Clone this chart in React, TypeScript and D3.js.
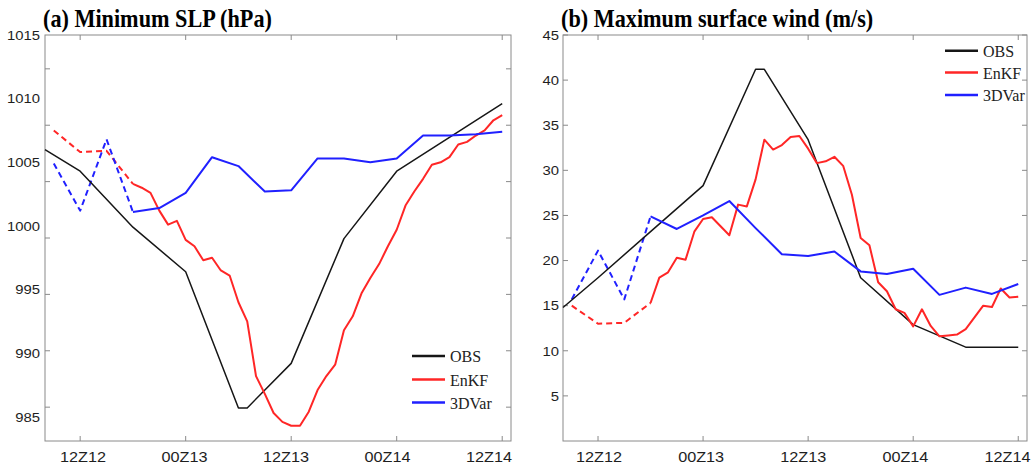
import React from "react";
import * as d3 from "d3";

// ---------- data (hours since 00Z12) ----------
const hourTicks = [12, 24, 36, 48, 60];
const hourTickLabels = ["12Z12", "00Z13", "12Z13", "00Z14", "12Z14"];
const slpTicks = [985, 990, 995, 1000, 1005, 1010, 1015];
const windTicks = [5, 10, 15, 20, 25, 30, 35, 40, 45];

// (a) Minimum SLP
const obsHoursA = [8, 12, 18, 24, 30, 31, 36, 42, 48, 60];
const obsSlp = [1006.0, 1004.3, 999.9, 996.4, 985.7, 985.7, 989.2, 999.0, 1004.3, 1009.6];

const spinHours = [9, 12, 15, 18];
const enkfSlpSpin = [1007.5, 1005.8, 1005.9, 1003.3];
const var3dSlpSpin = [1004.9, 1001.2, 1006.8, 1001.1];

const enkfHours = [18, 19, 20, 21, 22, 23, 24, 25, 26, 27, 28, 29, 30, 31, 32, 33, 34, 35, 36, 37, 38, 39,
  40, 41, 42, 43, 44, 45, 46, 47, 48, 49, 50, 51, 52, 53, 54, 55, 56, 57, 58, 59, 60];
const enkfSlp = [1003.3, 1003.0, 1002.6, 1001.2, 1000.1, 1000.4, 998.9, 998.4, 997.3, 997.5, 996.5, 996.1,
  994.0, 992.5, 988.2, 986.8, 985.3, 984.6, 984.3, 984.3, 985.4, 987.1, 988.2, 989.1, 991.8, 992.9, 994.7,
  995.9, 997.0, 998.4, 999.7, 1001.6, 1002.7, 1003.7, 1004.8, 1005.0, 1005.4, 1006.4, 1006.6, 1007.1,
  1007.5, 1008.3, 1008.7];

const var3dHours = [18, 21, 24, 27, 30, 33, 36, 39, 42, 45, 48, 51, 54, 57, 60];
const var3dSlp = [1001.1, 1001.4, 1002.6, 1005.4, 1004.7, 1002.7, 1002.8, 1005.3, 1005.3, 1005.0, 1005.3,
  1007.1, 1007.1, 1007.2, 1007.4];

// (b) Maximum surface wind
const obsHoursB = [8, 12, 18, 24, 30, 31, 36, 42, 48, 54, 60];
const obsWind = [14.8, 18.1, 23.2, 28.3, 41.2, 41.2, 33.4, 18.1, 12.9, 10.4, 10.4];

const enkfWindSpin = [15.0, 13.0, 13.1, 15.3];
const var3dWindSpin = [15.7, 21.1, 15.7, 24.9];

const enkfWind = [15.3, 18.1, 18.7, 20.3, 20.1, 23.2, 24.6, 24.8, 23.8, 22.8, 26.2, 26.0, 29.0, 33.4, 32.3,
  32.8, 33.7, 33.8, 32.4, 30.8, 31.0, 31.5, 30.5, 27.3, 22.5, 21.7, 17.6, 16.6, 14.6, 14.2, 12.7, 14.6, 12.75,
  11.6, 11.7, 11.8, 12.4, 13.7, 15.0, 14.85, 16.9, 15.9, 16.0];

const var3dWind = [24.9, 23.5, 25.0, 26.6, 23.6, 20.7, 20.5, 21.0, 18.8, 18.5, 19.1, 16.2, 17.0, 16.3, 17.4];

const legendNames = ["OBS", "EnKF", "3DVar"];

// ---------- style ----------
const COLORS: Record<string, string> = { OBS: "#161616", EnKF: "#ff2626", "3DVar": "#2020ff" };
const WIDTHS: Record<string, number> = { OBS: 1.5, EnKF: 2, "3DVar": 2 };
const AXIS = "#8a8a8a";
const TOP = 35;
const BOTTOM = 441;
const hourDomain = [8, 61];

type Series = { name: string; hours: number[]; values: number[]; dashed?: boolean };

function Panel(props: {
  x: d3.ScaleLinear<number, number>;
  xLab: d3.ScaleLinear<number, number>;
  y: d3.ScaleLinear<number, number>;
  yTick: d3.ScaleLinear<number, number>;
  yTicks: number[];
  yLabelRight: number;
  title: string;
  series: Series[];
  legend: { x: number; ys: number[] };
}) {
  const { x, xLab, y, yTick, yTicks, yLabelRight, title, series, legend } = props;
  const [left, right] = x.range();
  const mk = (s: Series) =>
    d3
      .line<number>()
      .x((_, i) => x(s.hours[i]))
      .y((d) => y(d))(s.values) || "";
  return (
    <g>
      <text
        transform={`translate(${left - 2},27) scale(0.855,1)`}
        fontFamily="'Liberation Serif','Times New Roman',serif"
        fontWeight="bold"
        fontSize={26}
        fill="#000"
      >
        {title}
      </text>
      <rect x={left} y={TOP} width={right - left} height={BOTTOM - TOP} fill="none" stroke={AXIS} strokeWidth={1} />
      {hourTicks.map((h) => (
        <g key={"xt" + h}>
          <line x1={x(h)} x2={x(h)} y1={BOTTOM} y2={BOTTOM - 5} stroke={AXIS} />
          <line x1={x(h)} x2={x(h)} y1={TOP} y2={TOP + 5} stroke={AXIS} />
        </g>
      ))}
      {hourTicks.map((h, i) => (
        <text
          key={"xl" + h}
          transform={`translate(${xLab(h)},461.5) scale(1.12,1)`}
          textAnchor="middle"
          fontFamily="'Liberation Sans',Arial,sans-serif"
          fontSize={14.5}
          fill="#1e1e1e"
        >
          {hourTickLabels[i]}
        </text>
      ))}
      {yTicks.map((v) => (
        <g key={"yt" + v}>
          <line x1={left} x2={left + 5} y1={yTick(v)} y2={yTick(v)} stroke={AXIS} />
          <line x1={right} x2={right - 5} y1={yTick(v)} y2={yTick(v)} stroke={AXIS} />
        </g>
      ))}
      {yTicks.map((v) => (
        <text
          key={"yl" + v}
          transform={`translate(${yLabelRight},${y(v) + 4.8}) scale(1.1,1)`}
          textAnchor="end"
          fontFamily="'Liberation Sans',Arial,sans-serif"
          fontSize={13.5}
          fill="#1e1e1e"
        >
          {v}
        </text>
      ))}
      {series.map((s, i) => (
        <path
          key={"s" + i}
          d={mk(s)}
          fill="none"
          stroke={COLORS[s.name]}
          strokeWidth={WIDTHS[s.name]}
          strokeDasharray={s.dashed ? "6,4" : undefined}
          strokeLinejoin="round"
        />
      ))}
      {legendNames.map((n, i) => (
        <g key={"lg" + n}>
          <line x1={legend.x} x2={legend.x + 33} y1={legend.ys[i]} y2={legend.ys[i]} stroke={COLORS[n]} strokeWidth={2.5} />
          <text
            x={legend.x + 38}
            y={legend.ys[i] + 6}
            fontFamily="'Liberation Serif','Times New Roman',serif"
            fontSize={16}
            fill="#222"
          >
            {n}
          </text>
        </g>
      ))}
    </g>
  );
}

export default function App() {
  const xA = d3.scaleLinear().domain(hourDomain).range([45, 511]);
  const xB = d3.scaleLinear().domain(hourDomain).range([563, 1027]);
  const xLabA = d3.scaleLinear().domain([12, 60]).range([83, 489]);
  const xLabB = d3.scaleLinear().domain([12, 60]).range([599, 1007.5]);
  const yA = d3.scaleLinear().domain([983.1, 1015]).range([BOTTOM, TOP]);
  const yATick = d3.scaleLinear().domain([982, 1018]).range([BOTTOM, TOP]);
  const yB = d3.scaleLinear().domain([0, 45]).range([BOTTOM, TOP]);

  const seriesA: Series[] = [
    { name: "EnKF", hours: spinHours, values: enkfSlpSpin, dashed: true },
    { name: "3DVar", hours: spinHours, values: var3dSlpSpin, dashed: true },
    { name: "OBS", hours: obsHoursA, values: obsSlp },
    { name: "EnKF", hours: enkfHours, values: enkfSlp },
    { name: "3DVar", hours: var3dHours, values: var3dSlp },
  ];
  const seriesB: Series[] = [
    { name: "EnKF", hours: spinHours, values: enkfWindSpin, dashed: true },
    { name: "3DVar", hours: spinHours, values: var3dWindSpin, dashed: true },
    { name: "OBS", hours: obsHoursB, values: obsWind },
    { name: "EnKF", hours: enkfHours, values: enkfWind },
    { name: "3DVar", hours: var3dHours, values: var3dWind },
  ];

  return (
    <svg width={1032} height={465} style={{ position: "absolute", left: 0, top: 0, background: "#fff" }}>
      <rect x={0} y={0} width={1032} height={465} fill="#fff" />
      <Panel
        x={xA}
        xLab={xLabA}
        y={yA}
        yTick={yATick}
        yTicks={slpTicks}
        yLabelRight={40}
        title="(a) Minimum SLP (hPa)"
        series={seriesA}
        legend={{ x: 412, ys: [356, 379.5, 402.5] }}
      />
      <Panel
        x={xB}
        xLab={xLabB}
        y={yB}
        yTick={yB}
        yTicks={windTicks}
        yLabelRight={559}
        title="(b) Maximum surface wind (m/s)"
        series={seriesB}
        legend={{ x: 945, ys: [50.7, 72.5, 95] }}
      />
    </svg>
  );
}
